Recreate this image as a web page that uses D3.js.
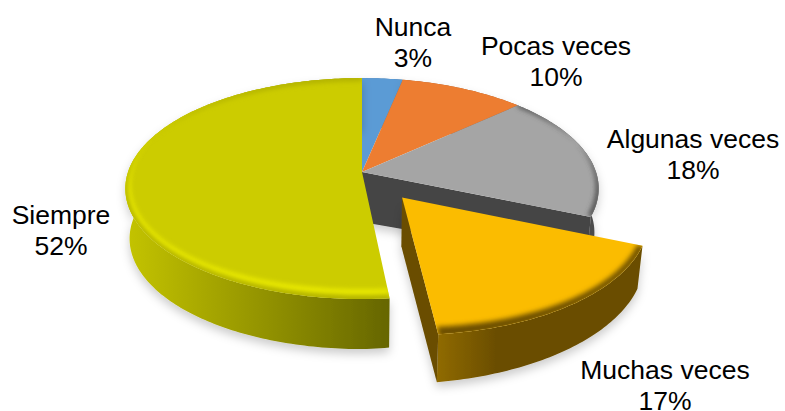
<!DOCTYPE html>
<html><head><meta charset="utf-8">
<script src="https://cdnjs.cloudflare.com/ajax/libs/d3/7.8.5/d3.min.js"></script>
<style>html,body{margin:0;padding:0;background:#fff;overflow:hidden}svg{display:block}
text{font-family:"Liberation Sans",Arial,sans-serif;font-size:26.5px;fill:#000;text-anchor:middle}</style>
</head><body><svg id="c" width="785" height="411"></svg>
<script>
const categories=["Nunca","Pocas veces","Algunas veces","Muchas veces","Siempre"];
const values=[3.2,9.9,18.3,17,51.6];
const percentLabels=["3%","10%","18%","17%","52%"];
const topColors=["#5b9bd5","#ed7d31","#a5a5a5","#fbbc00","#cccc00"];
const edgeColors=[null,null,"#4a4a4a","#6b4e00","#b0b000"];
const glowColors=[null,null,null,null,"#e8e800"];
const rimWidth=[0,0,5,8,3];
const wallStops=[["#4a7aa8","#4a7aa8"],["#a85620","#a85620"],["#5a5a5a","#4a4a4a"],["#8f6a00","#6b4e00"],["#c4c400","#666600"]];
const cutWall=["#444","#444","#444444","#6b4e00","#666600"];
const labelX=[413,556,693,665,61];
const labelY=[36,55,148,379,224];

const P=0.15,WALL=50;
const xs=d3.scaleLinear().domain([0,1]).range([362,596]);
const ys=d3.scaleLinear().domain([0,1]).range([172,280]);
const svg=d3.select("#c");
const defs=svg.append("defs");
[["blur",2.4],["blur2",2.2]].forEach(b=>{
  defs.append("filter").attr("id",b[0]).attr("x","-10%").attr("y","-10%").attr("width","120%").attr("height","120%")
   .append("feGaussianBlur").attr("stdDeviation",b[1]);
});
const sh=defs.append("filter").attr("id","shadow").attr("x","-10%").attr("y","-10%").attr("width","120%").attr("height","125%");
sh.append("feDropShadow").attr("dx",0).attr("dy",5).attr("stdDeviation",5).attr("flood-color","#000").attr("flood-opacity",0.2);

const pie=d3.pie().sort(null).startAngle(0).endAngle(2*Math.PI).padAngle(0);
const arcs=pie(values);
const line=d3.line();
function proj(u,v){const k=1/(1-P*v);return [xs(u*k),ys(v*k)];}
function down(p){
  const dx=p[0]-xs(0);
  return [xs(0)+dx*0.982,p[1]+WALL-7*Math.max(0,Math.min(1,dx/270))];
}
function geom(a,off){
  const n=Math.max(4,Math.ceil((a.endAngle-a.startAngle)*60));
  const outer=d3.range(n+1).map(i=>{
    const t=a.startAngle+(a.endAngle-a.startAngle)*i/n;
    return proj(Math.sin(t)+off[0],-Math.cos(t)+off[1]);
  });
  return {outer,tip:proj(off[0],off[1])};
}
const offsets=arcs.map((a,i)=>i===3?[0.165,0.24]:[0,0]);
const shifts=arcs.map((a,i)=>i===3?[0,-1.5]:[0,0]);
const gs=arcs.map((a,i)=>{
  const g=geom(a,offsets[i]);
  const mv=p=>[p[0]+shifts[i][0],p[1]+shifts[i][1]];
  return {outer:g.outer.map(mv),tip:mv(g.tip)};
});
arcs.forEach((a,i)=>{
  const xe=d3.extent(gs[i].outer,p=>p[0]);
  const lg=defs.append("linearGradient").attr("id","w"+i).attr("gradientUnits","userSpaceOnUse")
    .attr("x1",xe[0]).attr("x2",xe[1]).attr("y1",0).attr("y2",0);
  lg.append("stop").attr("offset",0).attr("stop-color",wallStops[i][0]);
  if(i===3) lg.append("stop").attr("offset",0.28).attr("stop-color",wallStops[i][1]);
  lg.append("stop").attr("offset",1).attr("stop-color",wallStops[i][1]);
  defs.append("clipPath").attr("id","f"+i).append("path")
    .attr("d",line([gs[i].tip,...gs[i].outer])+"Z");
});
function band(g,a,b){
  const off=(p,w)=>{
    const dx=Math.abs(p[0]-xs(0))/234;
    const f=1-0.6*dx*dx;
    return [p[0]-(p[0]-xs(0))*0.0023*w,p[1]-w*f];
  };
  return line([...g.outer.map(p=>off(p,a)),...g.outer.map(p=>off(p,b)).reverse()])+"Z";
}
function drawSlice(i,withCut){
  const g=gs[i],grp=svg.append("g");
  const wall=grp.append("g").attr("filter","url(#shadow)");
  wall.append("path").attr("d",line([...g.outer,...g.outer.map(down).reverse()])+"Z").attr("fill","url(#w"+i+")");
  if(withCut){
    const e=g.outer[g.outer.length-1];
    wall.append("path").attr("d",line([g.tip,e,down(e),down(g.tip)])+"Z").attr("fill",cutWall[i]);
  }
  grp.append("path").attr("d",line([g.tip,...g.outer])+"Z").attr("fill",topColors[i]);
  const c=grp.append("g").attr("clip-path","url(#f"+i+")");
  if(glowColors[i]){
    c.append("path").attr("d",band(g,3,10)).attr("fill",glowColors[i]).attr("filter","url(#blur2)");
  }
  if(edgeColors[i]){
    c.append("path").attr("d",band(g,-3,rimWidth[i])).attr("fill",edgeColors[i]).attr("filter","url(#blur)");
  }
}
drawSlice(0);drawSlice(1);drawSlice(2,true);
drawSlice(4);
drawSlice(3,true);
categories.forEach((c,i)=>{
  const t=svg.append("text").attr("x",labelX[i]).attr("y",labelY[i]);
  t.append("tspan").attr("x",labelX[i]).text(c);
  t.append("tspan").attr("x",labelX[i]).attr("dy",31).text(percentLabels[i]);
});
</script></body></html>
